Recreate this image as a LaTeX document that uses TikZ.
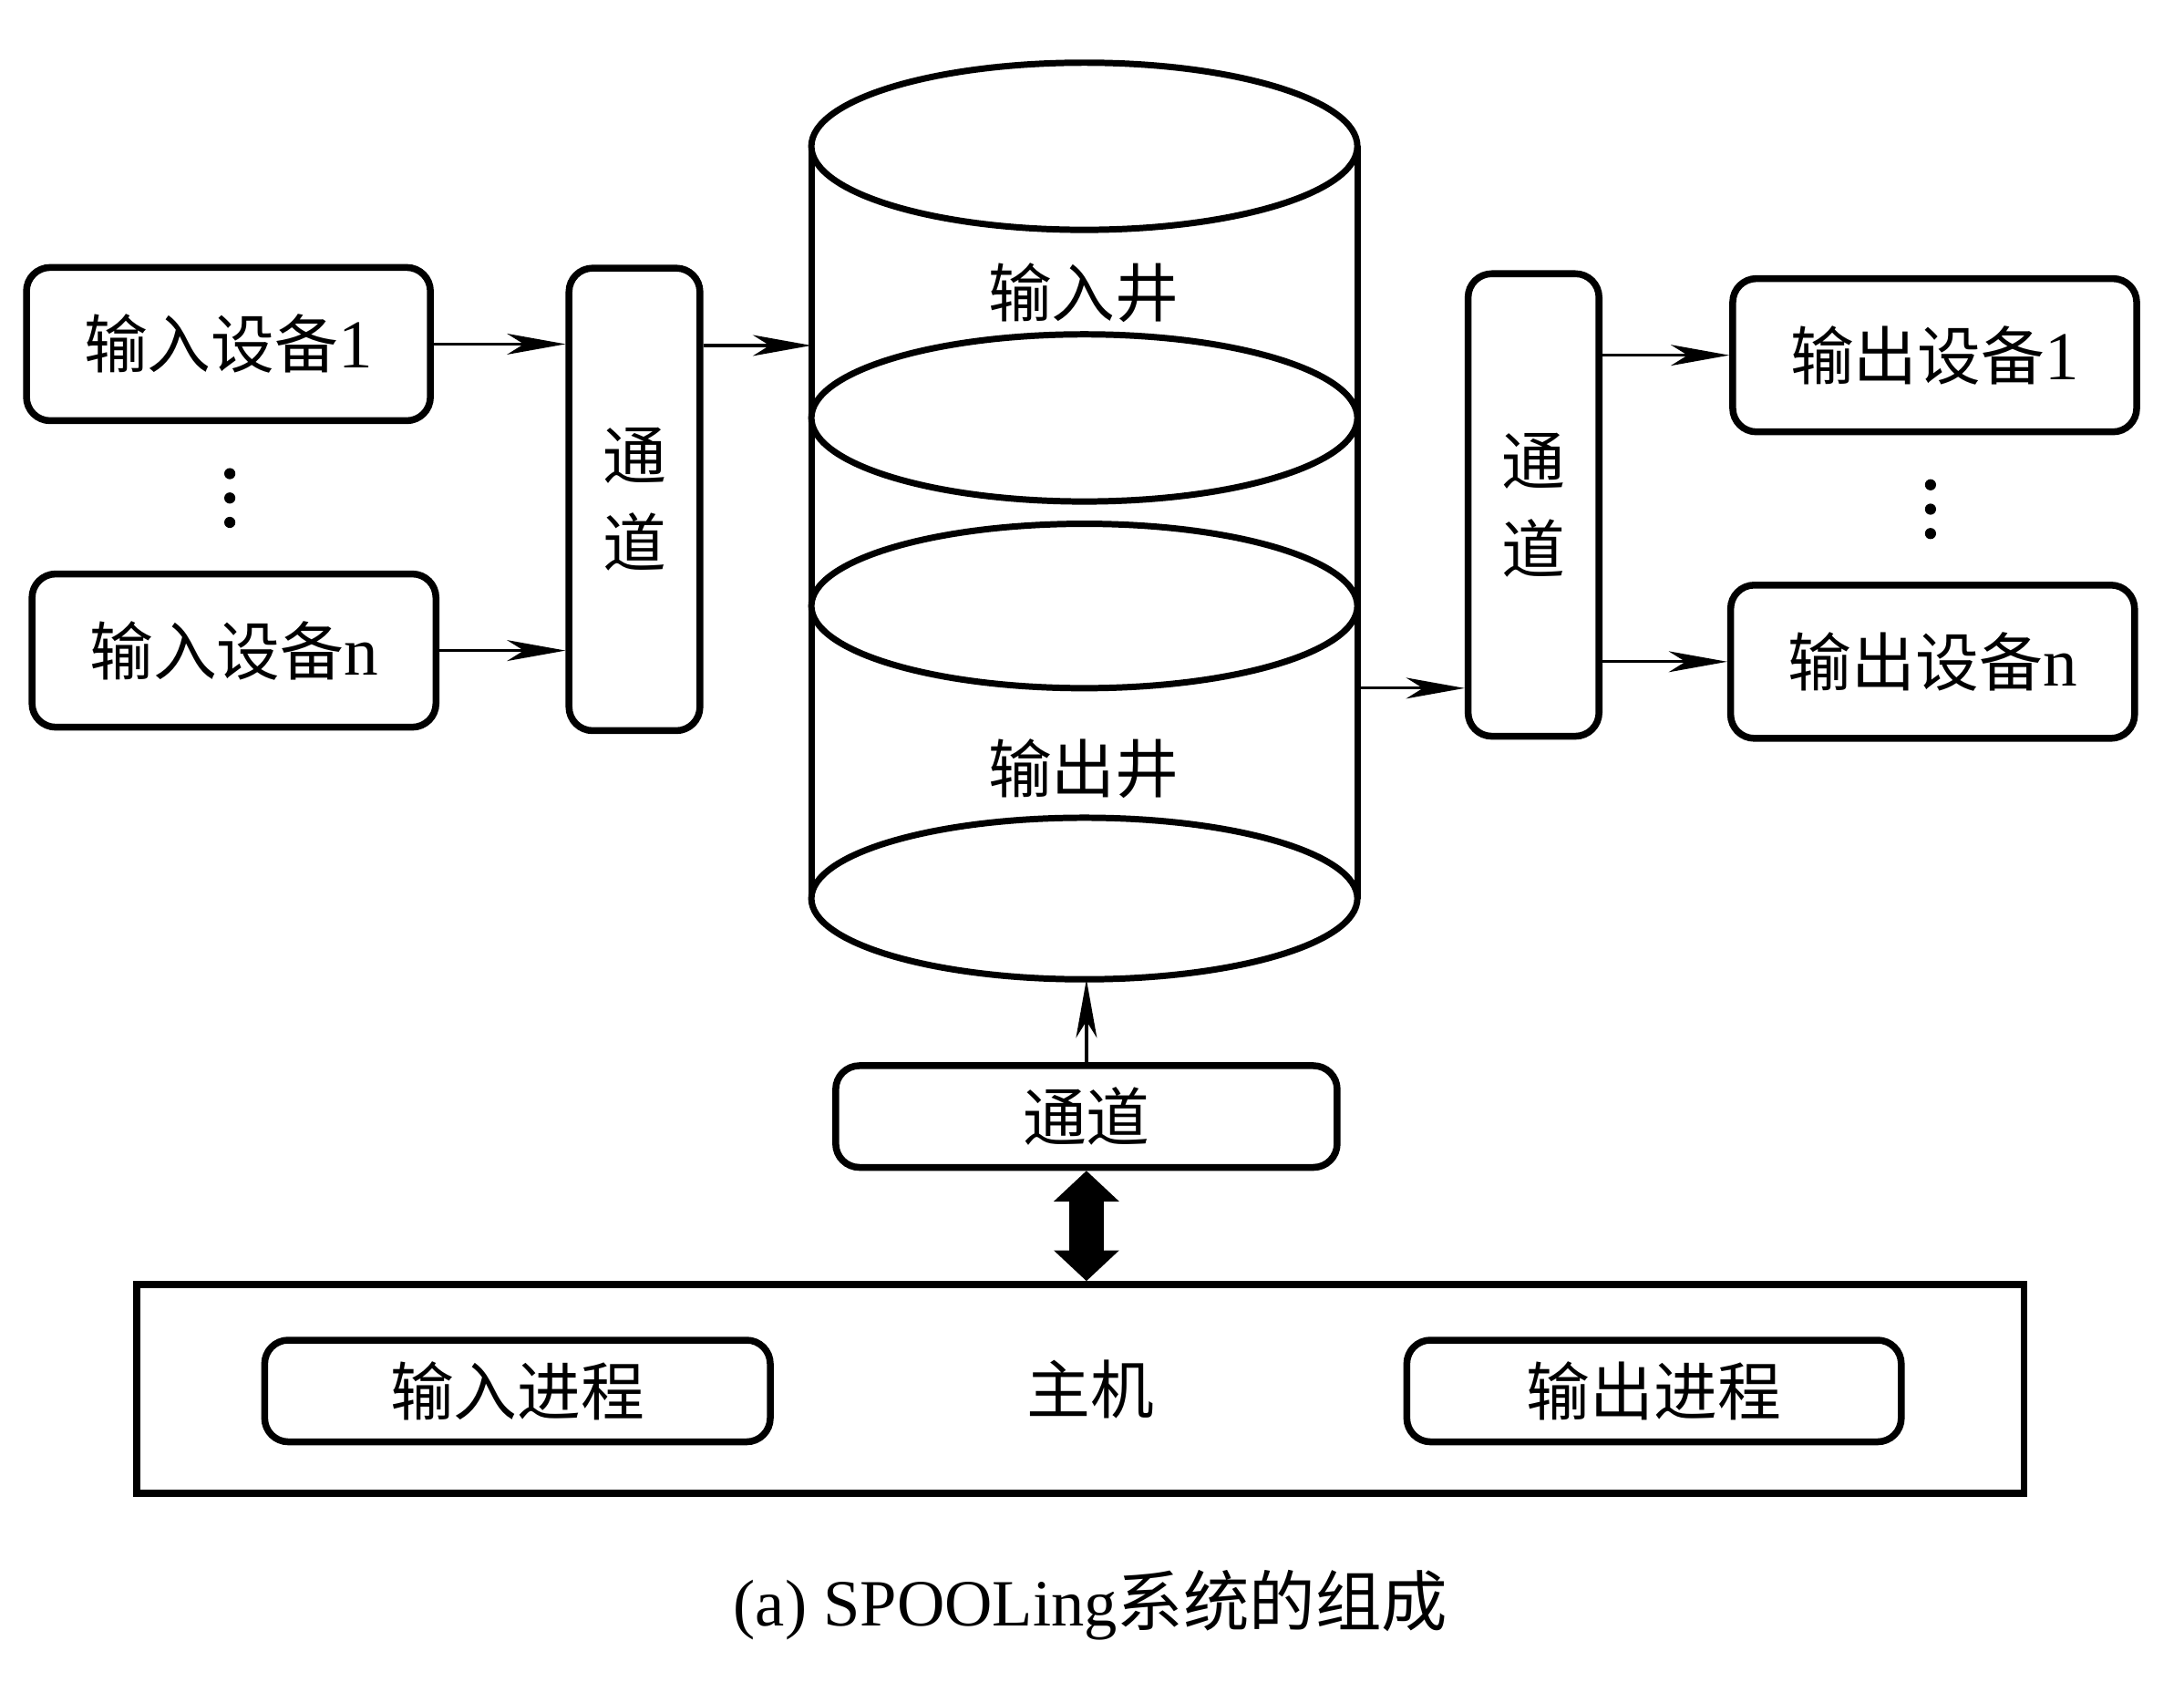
\documentclass[tikz,border=0pt]{standalone}
\usepackage{fontspec}
\setmainfont{Liberation Serif}
\newfontfamily\cjk{Noto Sans CJK SC}
\usetikzlibrary{arrows.meta}

\tikzset{
  devbox/.style={draw, line width=1.4pt, rounded corners=1.7mm, minimum width=2.9cm,
    minimum height=1.1cm, inner sep=0pt, font=\fontsize{13}{16}\selectfont},
  chanbox/.style={draw, line width=1.4pt, rounded corners=1.7mm, minimum width=0.94cm,
    minimum height=3.32cm, inner sep=0pt, align=center, font=\cjk\fontsize{13}{18}\selectfont},
  procbox/.style={draw, line width=1.4pt, rounded corners=1.7mm, minimum height=0.73cm,
    inner sep=0pt, font=\cjk\fontsize{13}{16}\selectfont},
  feed/.style={-{Stealth[length=4.2mm, width=1.5mm, inset=1.2mm]}, line width=0.6pt},
  well/.style={line width=1.3pt},
}

\begin{document}
\begin{tikzpicture}
    \useasboundingbox (0,0) rectangle (15.68,-12.07);

    % devices and channels
    \node[devbox] (indev1) at (1.64,-2.47) {{\cjk 输入设备}\fontsize{14}{16}\selectfont 1};
    \node[devbox] (indevn) at (1.68,-4.67) {{\cjk 输入设备}\fontsize{14}{16}\selectfont n};
    \node[chanbox] (inchan) at (4.555,-3.585) {通\\道};
    \node[chanbox] (outchan) at (11.01,-3.625) {通\\道};
    \node[devbox] (outdev1) at (13.89,-2.55) {{\cjk 输出设备}\fontsize{14}{16}\selectfont 1};
    \node[devbox] (outdevn) at (13.875,-4.75) {{\cjk 输出设备}\fontsize{14}{16}\selectfont n};
    \foreach \y in {3.40,3.575,3.75} \fill (1.65,-\y) circle (0.04);
    \foreach \y in {3.48,3.655,3.83} \fill (13.86,-\y) circle (0.04);

    % the spool cylinder
    \draw[well] (5.825,-1.05) -- (5.825,-6.45);
    \draw[well] (9.745,-1.05) -- (9.745,-6.45);
    \draw[well, fill=white] (7.785,-1.05) ellipse (1.96 and 0.6);
    \draw[well, fill=white] (7.785,-3.00) ellipse (1.96 and 0.6);
    \draw[well, fill=white] (7.785,-4.35) ellipse (1.96 and 0.59);
    \draw[well, fill=white] (7.785,-6.45) ellipse (1.96 and 0.58);
    \node[font=\cjk\fontsize{13}{16}\selectfont] (inwell) at (7.78,-2.10) {输入井};
    \node[font=\cjk\fontsize{13}{16}\selectfont] (outwell) at (7.78,-5.52) {输出井};
    \coordinate (wellin) at (5.825,-2.48);
    \coordinate (wellout) at (9.745,-4.94);
    \coordinate (wellbot) at (7.80,-7.03);

    % host
    \node[chanbox, minimum width=3.6cm, minimum height=0.73cm] (hostchan) at (7.80,-8.015) {通道};
    \node[draw, line width=1.4pt, minimum width=13.55cm, minimum height=1.5cm] (host) at (7.755,-9.97) {};
    \node[procbox, minimum width=3.63cm] (inproc) at (3.715,-9.985) {输入进程};
    \node[procbox, minimum width=3.55cm] (outproc) at (11.875,-9.985) {输出进程};
    \node[font=\cjk\fontsize{13}{16}\selectfont] (hostname) at (7.83,-9.97) {主机};

    \draw[feed] (indev1.east) -- (indev1.east -| inchan.west);
    \draw[feed] (indevn.east) -- (indevn.east -| inchan.west);
    \draw[feed] (inchan.east |- wellin) -- (wellin);
    \draw[feed] (wellout) -- (wellout -| outchan.west);
    \draw[feed] (outchan.east |- outdev1.west) -- (outdev1.west);
    \draw[feed] (outchan.east |- outdevn.west) -- (outdevn.west);
    \draw[feed] (hostchan.north) -- (wellbot);
    \draw[line width=2.5mm, {Triangle[length=2.2mm, width=4.7mm, line width=0pt]}-{Triangle[length=2.2mm, width=4.7mm, line width=0pt]}]
        (hostchan.south) -- (hostchan.south |- host.north);

    \node[font=\fontsize{13.5}{16}\selectfont] (caption) at (7.83,-11.52) {(a) SPOOLing{\cjk 系统的组成}};
\end{tikzpicture}
\end{document}
